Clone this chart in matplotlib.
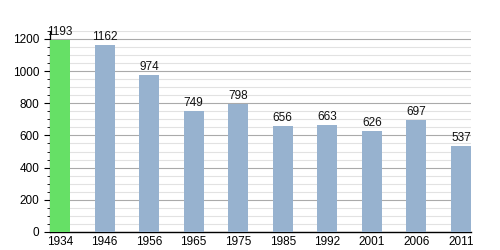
import matplotlib
matplotlib.use("Agg")
import matplotlib.pyplot as plt
from matplotlib.ticker import MultipleLocator

plt.rcParams["font.family"] = ["Liberation Sans", "DejaVu Sans"]

years = ["1934", "1946", "1956", "1965", "1975", "1985", "1992", "2001", "2006", "2011"]
population = [1193, 1162, 974, 749, 798, 656, 663, 626, 697, 537]
colors = ["#66e066"] + ["#97b2cf"] * 9

fig = plt.figure(figsize=(5, 2.5), dpi=100)
ax = fig.add_axes([0.1, 0.072, 0.842, 0.805])
w = 0.45
x = list(range(len(years)))
ax.bar(x, population, width=w, color=colors, zorder=3)
for xi, v in zip(x, population):
    ax.text(xi, v + 12, str(v), ha="center", va="bottom", fontsize=8.5, color="#111111", zorder=4)
ax.set_xlim(-w / 2, len(years) - 1 + w / 2)
ax.set_ylim(0, 1250)
ax.set_xticks(x)
ax.set_xticklabels(years, fontsize=8.5)
ax.yaxis.set_major_locator(MultipleLocator(200))
ax.yaxis.set_minor_locator(MultipleLocator(50))
ax.tick_params(axis="y", labelsize=8.5, length=4, width=0.8)
ax.tick_params(axis="y", which="minor", length=2.5, width=0.6)
ax.tick_params(axis="x", length=0, pad=3)
ax.grid(axis="y", which="major", color="#aaaaaa", linewidth=0.8, zorder=0)
ax.grid(axis="y", which="minor", color="#e2e2e2", linewidth=0.8, zorder=0)
for s in ["top", "right"]:
    ax.spines[s].set_visible(False)
ax.spines["left"].set_linewidth(0.9)
ax.spines["bottom"].set_linewidth(1.0)
fig.savefig("out.png", dpi=100)
